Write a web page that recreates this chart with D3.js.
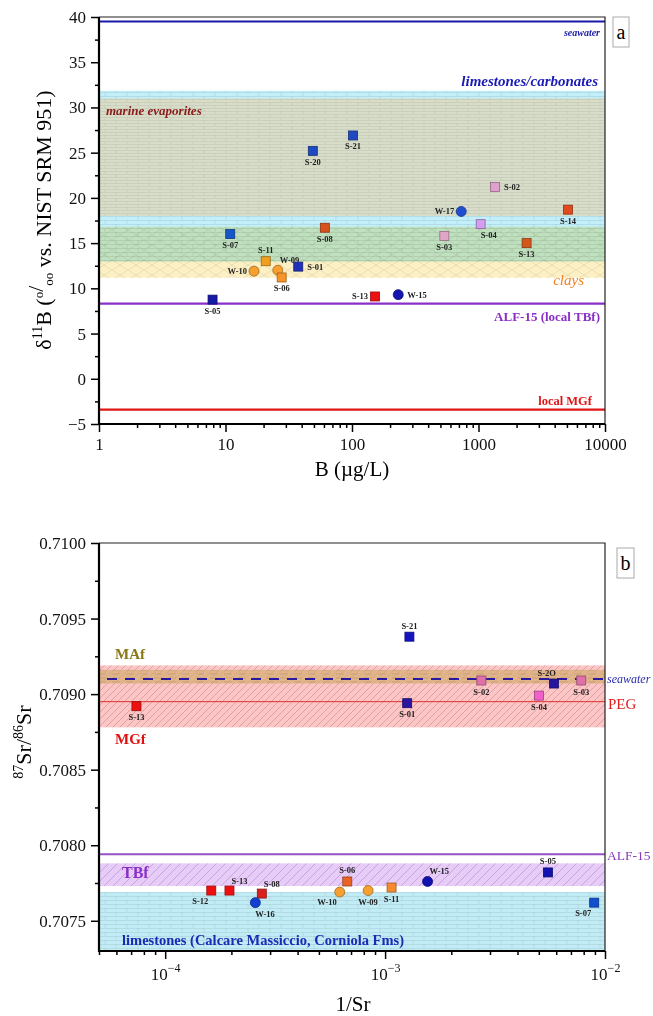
<!DOCTYPE html>
<html>
<head>
<meta charset="utf-8">
<script src="https://cdn.jsdelivr.net/npm/d3@7/dist/d3.min.js"></script>
<style>
body { margin: 0; background: #fff; }
svg text { font-family: "Liberation Serif", "Times New Roman", serif; }
</style>
</head>
<body>
<svg id="chart" width="653" height="1016"></svg>
<script>
// ---- panel a : d11B vs B ----
var aNames = ["S-20","S-21","S-02","W-17","S-14","S-04","S-03","S-13","S-08","S-07","S-11","W-09","W-10","S-06","S-01","S-05","S-13","W-15"];
var aB     = [49, 102, 1350, 730, 5100, 1040, 537, 2400, 61, 10.9, 20.8, 25.9, 16.8, 27.8, 37.6, 7.9, 152, 232];
var aD11B  = [25.2, 26.9, 21.2, 18.5, 18.7, 17.1, 15.8, 15.0, 16.7, 16.0, 13.0, 12.0, 11.9, 11.2, 12.4, 8.75, 9.1, 9.3];
var aBandNames = ["limestones/carbonates", "marine evaporites", "clays"];
var aBandLo    = [12.95, 18.0, 11.17];
var aBandHi    = [31.85, 31.0, 16.8];
var aLineNames = ["seawater", "ALF-15 (local TBf)", "local MGf"];
var aLineVals  = [39.5, 8.3, -3.4];
var aXTicks = [1, 10, 100, 1000, 10000];
var aYTicks = [-5, 0, 5, 10, 15, 20, 25, 30, 35, 40];

// ---- panel b : 87Sr/86Sr vs 1/Sr ----
var bNames = ["S-13","S-21","S-01","S-02","S-20","S-04","S-03","S-12","S-13","S-08","W-16","S-06","W-10","W-09","S-11","W-15","S-05","S-07"];
var bInvSr = [7.4e-5, 1.29e-3, 1.26e-3, 2.74e-3, 5.86e-3, 5.01e-3, 7.8e-3, 1.62e-4, 1.96e-4, 2.75e-4, 2.57e-4, 6.73e-4, 6.22e-4, 8.37e-4, 1.07e-3, 1.56e-3, 5.5e-3, 8.93e-3];
var bSr    = [0.70892, 0.70938, 0.70894, 0.70909, 0.70907, 0.70899, 0.70909, 0.70770, 0.70770, 0.70768, 0.70762, 0.70776, 0.70769, 0.70770, 0.70772, 0.70776, 0.70782, 0.70762];
var bBandNames = ["MGf", "MAf", "TBf", "limestones (Calcare Massiccio, Corniola Fms)"];
var bBandLo    = [0.70878, 0.70907, 0.70773, 0.7073];
var bBandHi    = [0.70919, 0.70916, 0.70788, 0.70769];
var bLineNames = ["seawater", "PEG", "ALF-15"];
var bLineVals  = [0.70910, 0.70895, 0.70794];
var bXTicks = [1e-4, 1e-3, 1e-2];
var bYTicks = [0.7075, 0.7080, 0.7085, 0.7090, 0.7095, 0.7100];

// marker colours and label placement (style only)
var aFill = ["#1f49c0","#1f49c0","#e0a0cc","#1f4fd0","#e04a1c","#d49ef0","#e0a6c8","#d4581c","#d8501c","#1556c8","#f0a020","#f5a030","#f5a030","#f59428","#2030b8","#1818a8","#ee1010","#1515b0"];
var aLab  = ["b","b","r","l","b","br","b","b","b","b","t","tr","l","b","r","b","l","r"];
var bFill = ["#ee1010","#1414c0","#2a14a0","#e070a8","#2414a0","#f060c8","#e070a8","#ee1010","#ee1010","#d82020","#1040d0","#e86424","#f5a030","#f5a030","#f58a30","#1212b0","#1212b0","#1050d0"];
var bLab  = ["b","t","b","b","tl","b","b","bl","tr","tr","br","t","bl","b","b","tr","t","bl"];

var svg = d3.select("#chart");
var defs = svg.append("defs");

function pattern(id, w, h, d, stroke, sw) {
  var p = defs.append("pattern").attr("id", id).attr("patternUnits", "userSpaceOnUse")
    .attr("width", w).attr("height", h);
  p.append("path").attr("d", d).attr("fill", "none").attr("stroke", stroke).attr("stroke-width", sw);
}
pattern("brick", 22, 8, "M0,0.5H22M0,4.5H22M6,0.5V4.5M17,4.5V8.5", "rgba(80,110,115,0.2)", 0.7);
pattern("brick2", 22, 6, "M0,0.5H22M0,3.5H22M6,0.5V3.5M17,3.5V6.5", "rgba(90,95,85,0.18)", 0.6);
pattern("cross", 16, 10, "M0,0L16,10M0,10L16,0", "rgba(110,110,70,0.22)", 0.6);
pattern("diagR", 7, 7, "M-1,8L8,-1M-1,1L1,-1M6,8L8,6", "rgba(150,60,60,0.45)", 0.6);
pattern("diagP", 9, 9, "M-1,10L10,-1M-1,1L1,-1M8,10L10,8", "rgba(120,70,160,0.40)", 0.7);
pattern("dashT", 14, 4, "M0,2H8", "rgba(120,90,50,0.35)", 0.6);

// label offsets for a placement code
function labOff(c) {
  return {
    b:  [0, 14, "middle"], t: [0, -8, "middle"],
    r:  [9, 3, "start"],   l: [-7, 3, "end"],
    br: [0, 14, "start"],  bl: [-3, 13, "end"],
    tr: [2, -7, "start"],  tl: [2, -8, "end"]
  }[c];
}

function supTicks(sel) {
  sel.selectAll(".tick text").each(function(d) {
    var t = d3.select(this).text("");
    t.append("tspan").text("10");
    t.append("tspan").attr("dy", -8).attr("font-size", 12).text("\u2212" + Math.round(-Math.log10(d)));
  });
}

function drawFrame(g, x, y, xTicks, xMinor, yTicks, yMinor, yFmt, xFmt, xPad) {
  var x0 = x.range()[0], x1 = x.range()[1], y0 = y.range()[0], y1 = y.range()[1];
  // minor ticks
  g.append("g").attr("transform", "translate(0," + y0 + ")")
    .call(d3.axisBottom(x).tickValues(xMinor).tickSize(4).tickFormat(""))
    .call(function(s) { s.select(".domain").remove(); s.selectAll("line").attr("stroke-width", 1.5); });
  g.append("g").attr("transform", "translate(" + x0 + ",0)")
    .call(d3.axisLeft(y).tickValues(yMinor).tickSize(4).tickFormat(""))
    .call(function(s) { s.select(".domain").remove(); s.selectAll("line").attr("stroke-width", 1.5); });
  // major ticks
  var xa = g.append("g").attr("transform", "translate(0," + y0 + ")")
    .call(d3.axisBottom(x).tickValues(xTicks).tickSize(8).tickPadding(xPad).tickFormat(xFmt || String))
    .call(function(s) { s.select(".domain").remove(); s.selectAll("line").attr("stroke-width", 1.5);
      s.selectAll("text").attr("font-size", 17).attr("fill", "#111"); });
  g.append("g").attr("transform", "translate(" + x0 + ",0)")
    .call(d3.axisLeft(y).tickValues(yTicks).tickSize(8).tickPadding(5).tickFormat(yFmt))
    .call(function(s) { s.select(".domain").remove(); s.selectAll("line").attr("stroke-width", 1.5);
      s.selectAll("text").attr("font-size", 17).attr("fill", "#111"); });
  // frame
  g.append("path").attr("d", "M" + x0 + "," + y1 + "H" + x1 + "V" + y0)
    .attr("fill", "none").attr("stroke", "#222").attr("stroke-width", 1.2);
  g.append("path").attr("d", "M" + x0 + "," + y1 + "V" + y0 + "H" + x1)
    .attr("fill", "none").attr("stroke", "#000").attr("stroke-width", 2.2);
  return xa;
}

function drawPoints(g, names, xs, ys, fills, labs, x, y) {
  var pts = g.append("g");
  names.forEach(function(n, i) {
    var px = x(xs[i]), py = y(ys[i]), c = d3.color(fills[i]).darker(1.2);
    if (n.charAt(0) === "W") {
      pts.append("circle").attr("cx", px).attr("cy", py).attr("r", 5)
        .attr("fill", fills[i]).attr("stroke", c).attr("stroke-width", 0.8);
    } else {
      pts.append("rect").attr("x", px - 4.5).attr("y", py - 4.5).attr("width", 9).attr("height", 9)
        .attr("fill", fills[i]).attr("stroke", c).attr("stroke-width", 0.8);
    }
    var o = labOff(labs[i]);
    pts.append("text").attr("x", px + o[0]).attr("y", py + o[1]).attr("text-anchor", o[2])
      .attr("font-size", 8.5).attr("font-weight", "bold").attr("fill", "#222")
      .text(n === "S-20" && ys[i] < 0.72 ? "S-2O" : n);
  });
}

function logMinor(lo, hi) {
  var out = [];
  for (var e = Math.floor(Math.log10(lo)); e < Math.log10(hi); e++)
    for (var k = 2; k <= 9; k++) {
      var v = k * Math.pow(10, e);
      if (v >= lo * 0.999 && v <= hi * 1.001) out.push(v);
    }
  return out;
}

// ================= panel a =================
var xA = d3.scaleLog().domain([1, 10000]).range([99, 605]);
var yA = d3.scaleLinear().domain([-5, 40]).range([424, 17]);
var gA = svg.append("g");

function bandA(i, fill, pat, blend) {
  var r = gA.append("rect").attr("x", xA.range()[0]).attr("width", xA.range()[1] - xA.range()[0])
    .attr("y", yA(aBandHi[i])).attr("height", yA(aBandLo[i]) - yA(aBandHi[i]))
    .attr("fill", fill);
  if (blend) r.style("mix-blend-mode", "multiply");
  gA.append("rect").attr("x", xA.range()[0]).attr("width", xA.range()[1] - xA.range()[0])
    .attr("y", yA(aBandHi[i])).attr("height", yA(aBandLo[i]) - yA(aBandHi[i]))
    .attr("fill", "url(#" + pat + ")");
}
bandA(0, "#c2eff9", "brick", false);
bandA(1, "#d7ddc8", "brick2", false);
bandA(2, "#fdf0c4", "cross", true);

var aLineCol = ["#1a1aa8", "#8a2ec8", "#e01515"];
aLineVals.forEach(function(v, i) {
  gA.append("line").attr("x1", xA.range()[0]).attr("x2", xA.range()[1])
    .attr("y1", yA(v)).attr("y2", yA(v)).attr("stroke", aLineCol[i]).attr("stroke-width", 2.2);
});
gA.append("text").attr("x", 600).attr("y", yA(aLineVals[0]) + 14).attr("text-anchor", "end")
  .attr("font-size", 10).attr("font-style", "italic").attr("font-weight", "bold").attr("fill", "#1a1aa8").text(aLineNames[0]);
gA.append("text").attr("x", 600).attr("y", yA(aLineVals[1]) + 17).attr("text-anchor", "end")
  .attr("font-size", 13).attr("font-weight", "bold").attr("fill", "#8a2ec8").text(aLineNames[1]);
gA.append("text").attr("x", 592).attr("y", yA(aLineVals[2]) - 5).attr("text-anchor", "end")
  .attr("font-size", 12.5).attr("font-weight", "bold").attr("fill", "#e01515").text(aLineNames[2]);
gA.append("text").attr("x", 598).attr("y", yA(aBandHi[0]) - 5).attr("text-anchor", "end")
  .attr("font-size", 15).attr("font-style", "italic").attr("font-weight", "bold").attr("fill", "#1a1ab4").text(aBandNames[0]);
gA.append("text").attr("x", 106).attr("y", yA(aBandHi[1]) + 17)
  .attr("font-size", 13).attr("font-style", "italic").attr("font-weight", "bold").attr("fill", "#8b1a1a").text(aBandNames[1]);
gA.append("text").attr("x", 584).attr("y", yA(aBandLo[2]) + 7).attr("text-anchor", "end")
  .attr("font-size", 15).attr("font-style", "italic").attr("fill", "#f08020").text(aBandNames[2]);

drawPoints(gA, aNames, aB, aD11B, aFill, aLab, xA, yA);
drawFrame(gA, xA, yA, aXTicks, logMinor(1, 10000), aYTicks,
  d3.range(-2.5, 40, 5), function(d) { return d3.format("")(d); }, String, 6);

gA.append("text").attr("x", 352).attr("y", 476).attr("text-anchor", "middle")
  .attr("font-size", 21).text("B (\u00b5g/L)");
var tA = gA.append("text").attr("transform", "translate(51,220) rotate(-90)")
  .attr("text-anchor", "middle").attr("font-size", 22);
tA.append("tspan").text("\u03b4");
tA.append("tspan").attr("dy", -9).attr("font-size", 14).text("11");
tA.append("tspan").attr("dy", 9).text("B (");
tA.append("tspan").attr("dy", -8).attr("font-size", 13).text("o");
tA.append("tspan").attr("dy", 0).text("/");
tA.append("tspan").attr("dy", 10).attr("font-size", 13).text("oo");
tA.append("tspan").attr("dy", -2).text(" vs. NIST SRM 951)");

gA.append("rect").attr("x", 613).attr("y", 17).attr("width", 16).attr("height", 30)
  .attr("fill", "#fff").attr("stroke", "#aaa").attr("stroke-width", 1);
gA.append("text").attr("x", 621).attr("y", 39).attr("text-anchor", "middle").attr("font-size", 20).text("a");

// ================= panel b =================
var xB = d3.scaleLog().domain([5e-5, 1e-2]).range([99, 605]);
var yB = d3.scaleLinear().domain([0.7073, 0.7100]).range([951, 543]);
var gB = svg.append("g");

var bBandFill = ["#fcc6c6", "#d8ae78", "#e6ccf6", "#c2ecf5"];
var bBandPat  = ["diagR", "dashT", "diagP", "brick"];
bBandNames.forEach(function(n, i) {
  var r = gB.append("rect").attr("x", xB.range()[0]).attr("width", xB.range()[1] - xB.range()[0])
    .attr("y", yB(bBandHi[i])).attr("height", yB(bBandLo[i]) - yB(bBandHi[i]))
    .attr("fill", bBandFill[i]);
  if (i === 1) r.attr("opacity", 0.75);
  gB.append("rect").attr("x", xB.range()[0]).attr("width", xB.range()[1] - xB.range()[0])
    .attr("y", yB(bBandHi[i])).attr("height", yB(bBandLo[i]) - yB(bBandHi[i]))
    .attr("fill", "url(#" + bBandPat[i] + ")");
});

gB.append("line").attr("x1", xB.range()[0] + 8).attr("x2", xB.range()[1] + 2)
  .attr("y1", yB(bLineVals[0])).attr("y2", yB(bLineVals[0]))
  .attr("stroke", "#2a1a9e").attr("stroke-width", 2).attr("stroke-dasharray", "10,8");
gB.append("line").attr("x1", xB.range()[0]).attr("x2", xB.range()[1])
  .attr("y1", yB(bLineVals[1])).attr("y2", yB(bLineVals[1]))
  .attr("stroke", "#e03030").attr("stroke-width", 1);
gB.append("line").attr("x1", xB.range()[0]).attr("x2", xB.range()[1])
  .attr("y1", yB(bLineVals[2])).attr("y2", yB(bLineVals[2]))
  .attr("stroke", "#9452c4").attr("stroke-width", 2);

gB.append("text").attr("x", 607).attr("y", yB(bLineVals[0]) + 4)
  .attr("font-size", 12).attr("font-style", "italic").attr("fill", "#2a2ab0").text(bLineNames[0]);
gB.append("text").attr("x", 608).attr("y", yB(bLineVals[1]) + 7)
  .attr("font-size", 15).attr("fill", "#e02020").text(bLineNames[1]);
gB.append("text").attr("x", 607).attr("y", yB(bLineVals[2]) + 6)
  .attr("font-size", 13.5).attr("fill", "#8a3cb8").text(bLineNames[2]);

gB.append("text").attr("x", 115).attr("y", yB(bBandHi[0]) + 16 - 22)
  .attr("font-size", 15).attr("font-weight", "bold").attr("fill", "#8a7814").text(bBandNames[1]);
gB.append("text").attr("x", 115).attr("y", yB(bBandLo[0]) + 17)
  .attr("font-size", 15).attr("font-weight", "bold").attr("fill", "#e01010").text(bBandNames[0]);
gB.append("text").attr("x", 122).attr("y", yB(bBandHi[2]) + 15)
  .attr("font-size", 16).attr("font-weight", "bold").attr("fill", "#8a2ec8").text(bBandNames[2]);
gB.append("text").attr("x", 122).attr("y", 945)
  .attr("font-size", 14.5).attr("font-weight", "bold").attr("fill", "#1a2ab4").text(bBandNames[3]);

drawPoints(gB, bNames, bInvSr, bSr, bFill, bLab, xB, yB);
var xaB = drawFrame(gB, xB, yB, bXTicks, logMinor(5e-5, 1e-2), bYTicks,
  d3.range(0.70775, 0.7100, 0.0005), d3.format(".4f"), String, 9);
supTicks(xaB);

gB.append("text").attr("x", 353).attr("y", 1011).attr("text-anchor", "middle")
  .attr("font-size", 21).text("1/Sr");
var tB = gB.append("text").attr("transform", "translate(31,742) rotate(-90)")
  .attr("text-anchor", "middle").attr("font-size", 22);
tB.append("tspan").attr("dy", -8).attr("font-size", 14).text("87");
tB.append("tspan").attr("dy", 8).text("Sr/");
tB.append("tspan").attr("dy", -8).attr("font-size", 14).text("86");
tB.append("tspan").attr("dy", 8).text("Sr");

gB.append("rect").attr("x", 617).attr("y", 548).attr("width", 17).attr("height", 30)
  .attr("fill", "#fff").attr("stroke", "#aaa").attr("stroke-width", 1);
gB.append("text").attr("x", 625.5).attr("y", 570).attr("text-anchor", "middle").attr("font-size", 20).text("b");
</script>
</body>
</html>
